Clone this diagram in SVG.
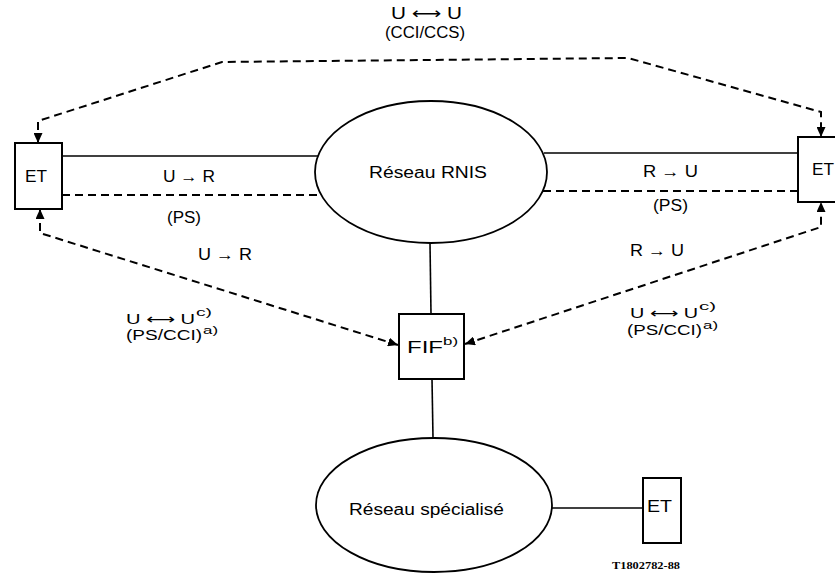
<svg xmlns="http://www.w3.org/2000/svg" width="835" height="581" viewBox="0 0 835 581">
<defs>
<marker id="ah" markerUnits="userSpaceOnUse" markerWidth="11" markerHeight="9" refX="10" refY="4.5" orient="auto-start-reverse" viewBox="0 0 11 9">
<path d="M0,0 L10,4.5 L0,9 z" fill="#000"/>
</marker>
<style>
.box{fill:#fff;stroke:#000;stroke-width:2}
.ell{fill:#fff;stroke:#000;stroke-width:1.8}
.ln{fill:none;stroke:#000;stroke-width:1.6}
.dash{fill:none;stroke:#000;stroke-width:2;stroke-dasharray:8 5}
.t{font-family:"Liberation Sans","DejaVu Sans",Arial,sans-serif;font-size:16px;fill:#000}
.m{font-family:"Liberation Sans","DejaVu Sans",Arial,sans-serif;font-size:14px;fill:#000}
.s{font-family:"Liberation Sans","DejaVu Sans",Arial,sans-serif;font-size:11px;fill:#000}
.ref{font-family:"Liberation Serif","DejaVu Serif",serif;font-size:11px;font-weight:bold;fill:#000}
</style>
</defs>
<rect width="835" height="581" fill="#fff"/>

<g id="connectors">
<line class="ln" x1="62" y1="156" x2="318" y2="156"/>
<line class="dash" x1="62" y1="195" x2="321" y2="195"/>
<line class="ln" x1="544" y1="153" x2="798" y2="153"/>
<line class="dash" x1="543" y1="191" x2="798" y2="191"/>
<line class="ln" x1="430" y1="243" x2="431" y2="314"/>
<line class="ln" x1="432" y1="379" x2="433" y2="438"/>
<line class="ln" x1="552" y1="508" x2="643" y2="508"/>
<path class="dash" d="M38,143 L38,121 L222,62 L628,58 L821,112 L821,137" marker-start="url(#ah)" marker-end="url(#ah)"/>
<path class="dash" d="M398,345 L40,233 L40,209" marker-start="url(#ah)" marker-end="url(#ah)"/>
<path class="dash" d="M465,344 L821,227 L821,202" marker-start="url(#ah)" marker-end="url(#ah)"/>
</g>

<g id="et-left">
<rect class="box" x="15" y="143" width="47" height="66"/>
<text class="t" x="25" y="182" textLength="22" lengthAdjust="spacingAndGlyphs">ET</text>
</g>

<g id="et-right">
<rect class="box" x="798" y="137" width="50" height="65"/>
<text class="t" x="812" y="175" textLength="22" lengthAdjust="spacingAndGlyphs">ET</text>
</g>

<g id="reseau-rnis">
<ellipse class="ell" cx="431" cy="172" rx="116" ry="71"/>
<text class="t" x="369" y="178" textLength="118" lengthAdjust="spacingAndGlyphs">Réseau RNIS</text>
</g>

<g id="fif">
<rect class="box" x="399" y="314" width="65" height="65"/>
<text class="t" x="407" y="353" textLength="36" lengthAdjust="spacingAndGlyphs">FIF</text>
<text class="s" x="443" y="345" textLength="15" lengthAdjust="spacingAndGlyphs">b)</text>
</g>

<g id="reseau-specialise">
<ellipse class="ell" cx="434" cy="505" rx="118" ry="67"/>
<text class="t" x="349" y="515" textLength="155" lengthAdjust="spacingAndGlyphs">Réseau spécialisé</text>
</g>

<g id="et-bottom">
<rect class="box" x="643" y="478" width="38" height="65"/>
<text class="t" x="647" y="512" textLength="25" lengthAdjust="spacingAndGlyphs">ET</text>
</g>

<g id="labels">
<text class="t" x="391" y="19" textLength="71" lengthAdjust="spacingAndGlyphs">U ⟷ U</text>
<text class="t" x="385" y="38" textLength="80" lengthAdjust="spacingAndGlyphs">(CCI/CCS)</text>
<text class="t" x="163" y="182" textLength="52" lengthAdjust="spacingAndGlyphs">U → R</text>
<text class="t" x="167" y="223" textLength="34" lengthAdjust="spacingAndGlyphs">(PS)</text>
<text class="t" x="198" y="260" textLength="54" lengthAdjust="spacingAndGlyphs">U → R</text>
<text class="t" x="643" y="177" textLength="55" lengthAdjust="spacingAndGlyphs">R → U</text>
<text class="t" x="653" y="211" textLength="35" lengthAdjust="spacingAndGlyphs">(PS)</text>
<text class="t" x="630" y="256" textLength="54" lengthAdjust="spacingAndGlyphs">R → U</text>
<text class="m" x="126" y="324" textLength="69" lengthAdjust="spacingAndGlyphs">U ⟷ U</text>
<text class="s" x="196" y="316" textLength="16" lengthAdjust="spacingAndGlyphs">c)</text>
<text class="m" x="126" y="340" textLength="76" lengthAdjust="spacingAndGlyphs">(PS/CCI)</text>
<text class="s" x="203" y="334" textLength="15" lengthAdjust="spacingAndGlyphs">a)</text>
<text class="m" x="630" y="318" textLength="68" lengthAdjust="spacingAndGlyphs">U ⟷ U</text>
<text class="s" x="699" y="310" textLength="17" lengthAdjust="spacingAndGlyphs">c)</text>
<text class="m" x="627" y="335" textLength="75" lengthAdjust="spacingAndGlyphs">(PS/CCI)</text>
<text class="s" x="703" y="329" textLength="15" lengthAdjust="spacingAndGlyphs">a)</text>
<text class="ref" x="612" y="569" textLength="68" lengthAdjust="spacingAndGlyphs">T1802782-88</text>
</g>
</svg>
